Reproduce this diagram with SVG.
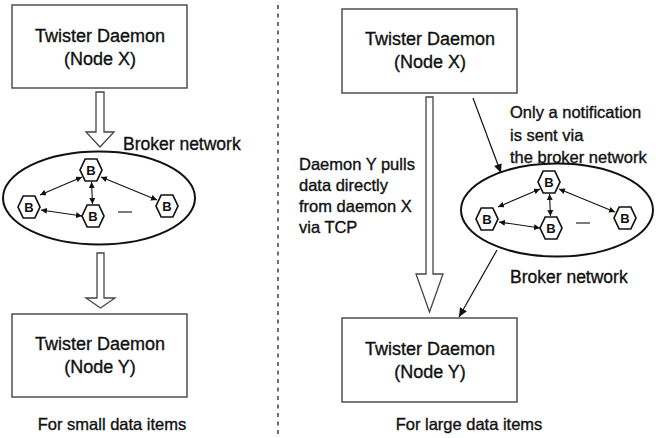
<svg xmlns="http://www.w3.org/2000/svg" width="656" height="438" viewBox="0 0 656 438">
<defs>
<style>
.box{fill:#fff;stroke:#444;stroke-width:1.4}
.t{font-family:"Liberation Sans",Arial,sans-serif;fill:#111;stroke:#111;stroke-width:0.35;text-anchor:middle}
.tl{font-family:"Liberation Sans",Arial,sans-serif;fill:#111;stroke:#111;stroke-width:0.35}
.big{font-size:18px}
.mid{font-size:16.5px}
.hx{fill:#fff;stroke:#111;stroke-width:1.7}
.bl{font-family:"Liberation Sans",Arial,sans-serif;font-weight:bold;font-size:13px;fill:#111;text-anchor:middle}
.hollow{fill:#fff;stroke:#444;stroke-width:1.3}
.ell{fill:none;stroke:#111;stroke-width:2}
.sm{stroke:#111;stroke-width:1.1;fill:none;marker-start:url(#sa);marker-end:url(#sa)}
.ln{stroke:#111;stroke-width:1.2;fill:none;marker-end:url(#la)}
</style>
<marker id="sa" viewBox="0 0 6 6" refX="6" refY="3" markerWidth="6" markerHeight="6" markerUnits="userSpaceOnUse" orient="auto-start-reverse"><path d="M0,0 L6,3 L0,6 z" fill="#111"/></marker>
<marker id="la" viewBox="0 0 9 8" refX="9" refY="4" markerWidth="9" markerHeight="8" markerUnits="userSpaceOnUse" orient="auto"><path d="M0,0 L9,4 L0,8 z" fill="#111"/></marker>
<polygon id="hex" points="-11,0 -5.8,-11 5.8,-11 11,0 5.8,11 -5.8,11"/>
</defs>
<rect width="656" height="438" fill="#fff"/>

<!-- divider -->
<line x1="278" y1="5" x2="278" y2="436" stroke="#222" stroke-width="1.3" stroke-dasharray="4,4.5"/>

<!-- Left side -->
<g id="left-nodeX">
<rect class="box" x="12" y="5" width="175" height="83"/>
<text class="t big" x="100" y="42">Twister Daemon</text>
<text class="t big" x="100" y="65">(Node X)</text>
</g>
<g id="left-nodeY">
<rect class="box" x="12" y="314" width="175" height="83"/>
<text class="t big" x="100" y="350">Twister Daemon</text>
<text class="t big" x="100" y="373">(Node Y)</text>
</g>
<g id="left-broker" transform="translate(99,198)">
<ellipse class="ell" cx="0" cy="0" rx="96" ry="46.5"/>
<g id="l-b1"><use href="#hex" class="hx" x="-8" y="-28"/><text class="bl" x="-8" y="-23.3">B</text></g>
<g id="l-b2"><use href="#hex" class="hx" x="-70" y="9"/><text class="bl" x="-70" y="13.7">B</text></g>
<g id="l-b3"><use href="#hex" class="hx" x="-6" y="18"/><text class="bl" x="-6" y="22.7">B</text></g>
<g id="l-b4"><use href="#hex" class="hx" x="68" y="8"/><text class="bl" x="68" y="12.7">B</text></g>
<line x1="19" y1="14" x2="33" y2="14" stroke="#111" stroke-width="1.1"/>
</g>
<text class="tl" x="123" y="150" font-size="17.5">Broker network</text>
<text class="t mid" x="112" y="430">For small data items</text>

<!-- Right side -->
<g id="right-nodeX">
<rect class="box" x="342" y="9" width="175" height="84"/>
<text class="t big" x="430" y="45">Twister Daemon</text>
<text class="t big" x="430" y="68">(Node X)</text>
</g>
<g id="right-nodeY">
<rect class="box" x="342" y="318" width="175" height="84"/>
<text class="t big" x="430" y="355">Twister Daemon</text>
<text class="t big" x="430" y="378">(Node Y)</text>
</g>
<g id="right-broker" transform="translate(557,210)">
<ellipse class="ell" cx="0" cy="0" rx="96" ry="46.5"/>
<g id="r-b1"><use href="#hex" class="hx" x="-8" y="-28"/><text class="bl" x="-8" y="-23.3">B</text></g>
<g id="r-b2"><use href="#hex" class="hx" x="-70" y="9"/><text class="bl" x="-70" y="13.7">B</text></g>
<g id="r-b3"><use href="#hex" class="hx" x="-6" y="18"/><text class="bl" x="-6" y="22.7">B</text></g>
<g id="r-b4"><use href="#hex" class="hx" x="68" y="8"/><text class="bl" x="68" y="12.7">B</text></g>
<line x1="19" y1="13" x2="33" y2="13" stroke="#111" stroke-width="1.1"/>
</g>
<text class="tl" x="510" y="283" font-size="17.5">Broker network</text>
<g class="tl mid">
<text x="510" y="118">Only a notification</text>
<text x="510" y="141">is sent via</text>
<text x="510" y="163">the broker network</text>
</g>
<g class="tl mid">
<text x="299" y="170">Daemon Y pulls</text>
<text x="299" y="191">data directly</text>
<text x="299" y="212">from daemon X</text>
<text x="299" y="233">via TCP</text>
</g>
<text class="t mid" x="469" y="430">For large data items</text>

<!-- Connectors -->
<g id="connectors">
<polygon class="hollow" points="96,92 104,92 104,132 114,132 100,147 86,132 96,132"/>
<polygon class="hollow" points="97,253 104,253 104,298 115,298 100.5,308 86,298 97,298"/>
<polygon class="hollow" points="426,97 433,97 433,274 443,274 429.5,312 416,274 426,274"/>
<line class="ln" x1="473" y1="98" x2="501" y2="173"/>
<line class="ln" x1="497" y1="250" x2="459" y2="317"/>
<g transform="translate(99,198)">
<line class="sm" x1="-17" y1="-21" x2="-59" y2="-3"/>
<line class="sm" x1="-7.5" y1="-16" x2="-6.5" y2="6"/>
<line class="sm" x1="-58" y1="12" x2="-17" y2="18"/>
<line class="sm" x1="2" y1="-21" x2="58" y2="2"/>
</g>
<g transform="translate(557,210)">
<line class="sm" x1="-17" y1="-21" x2="-59" y2="-3"/>
<line class="sm" x1="-7.5" y1="-16" x2="-6.5" y2="6"/>
<line class="sm" x1="-58" y1="12" x2="-17" y2="18"/>
<line class="sm" x1="2" y1="-21" x2="58" y2="2"/>
</g>
</g>
</svg>
